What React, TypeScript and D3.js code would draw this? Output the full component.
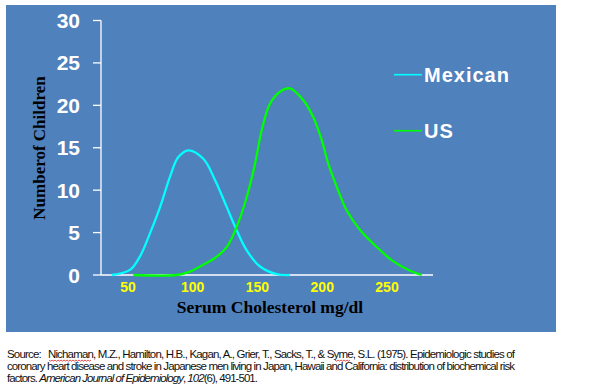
import * as d3 from "d3";

// values (cholesterol mg/dl, number of children)
const mexicanX = [37.5, 51.6, 59.3, 67, 74.8, 82.5, 88.9, 96.6, 108.2, 117.2, 126.3, 132.7, 141.7, 152, 164.9, 175.1];
const mexicanY = [0, 0.6, 2.2, 4.9, 8.0, 11.6, 13.9, 14.7, 13.7, 11.2, 8.0, 5.7, 2.9, 1.0, 0.1, 0];
const usX = [54.1, 87.6, 97.9, 108.2, 117.2, 126.3, 134, 141.7, 148.1, 153.3, 159.7, 167.4, 175, 185.4, 193.1, 199.6, 204.7, 211.2, 218.9, 229.2, 242.1, 254.9, 267.8, 276.8];
const usY = [0, 0, 0.4, 1.2, 2.0, 3.3, 5.7, 9.2, 13.1, 17.1, 20.2, 21.6, 22.0, 20.6, 18.6, 15.9, 13.1, 10.4, 7.6, 5.3, 3.3, 1.6, 0.5, 0];
const xTicks = [50, 100, 150, 200, 250];
const yTicks = [0, 5, 10, 15, 20, 25, 30];
const seriesNames = ["Mexican", "US"];
const seriesColors = ["#00FFFF", "#00FF00"];

const W = 590;
const H = 389;

// spell-check squiggle under a word
const squiggle = (x0: number, x1: number, yy: number) => {
  let d = `M${x0},${yy}`;
  for (let px = x0 + 1.5, k = 0; px <= x1; px += 1.5, k++) {
    d += ` L${px},${yy + (k % 2 === 0 ? 1.2 : 0)}`;
  }
  return d;
};

const App = () => {
  const x = d3.scaleLinear().domain([29.2, 285.5]).range([101, 433]);
  const y = d3.scaleLinear().domain([0, 30]).range([275, 20.5]);

  const line = d3
    .line<[number, number]>()
    .x((d) => x(d[0]))
    .y((d) => Math.min(y(0), y(d[1])))
    .curve(d3.curveCatmullRom.alpha(0.5));

  const series = [
    mexicanX.map((v, i) => [v, mexicanY[i]] as [number, number]),
    usX.map((v, i) => [v, usY[i]] as [number, number]),
  ];

  const sans = "Arial, 'Liberation Sans', sans-serif";
  const serif = "'Times New Roman', 'Liberation Serif', serif";

  return (
    <svg
      width={W}
      height={H}
      style={{ position: "absolute", left: 0, top: 0, background: "#fff" }}
    >
      <rect x={6} y={5} width={550} height={327} fill="#4F81BD" />

      {/* y axis */}
      <line x1={x.range()[0]} x2={x.range()[0]} y1={y(0)} y2={y(30)} stroke="#fff" strokeWidth={1.3} />
      {yTicks.map((t) => (
        <g key={t}>
          <line x1={93} x2={101} y1={y(t)} y2={y(t)} stroke="#fff" strokeWidth={1.3} />
          <text
            x={80}
            y={y(t)}
            dy="0.36em"
            textAnchor="end"
            fill="#fff"
            fontFamily={sans}
            fontWeight="bold"
            fontSize={21}
          >
            {t}
          </text>
        </g>
      ))}

      {/* x axis */}
      <line x1={x.range()[0]} x2={x.range()[1]} y1={y(0)} y2={y(0)} stroke="#fff" strokeWidth={1.3} />
      {xTicks.map((t) => (
        <text
          key={t}
          x={x(t)}
          y={292}
          textAnchor="middle"
          fill="#FFFF00"
          fontFamily={sans}
          fontWeight="bold"
          fontSize={14}
        >
          {t}
        </text>
      ))}

      {series.map((s, i) => (
        <path key={i} d={line(s) ?? ""} fill="none" stroke={seriesColors[i]} strokeWidth={2.3} />
      ))}

      <text
        x={270}
        y={313}
        textAnchor="middle"
        fill="#000"
        fontFamily={serif}
        fontWeight="bold"
        fontSize={17.5}
      >
        Serum Cholesterol mg/dl
      </text>
      <text
        transform="translate(45,148) rotate(-90)"
        textAnchor="middle"
        fill="#000"
        fontFamily={serif}
        fontWeight="bold"
        fontSize={17}
      >
        Numberof Children
      </text>

      {/* legend */}
      {seriesNames.map((n, i) => (
        <g key={n} transform={`translate(394,${74.7 + i * 56})`}>
          <line x1={0} x2={28} y1={0} y2={0} stroke={seriesColors[i]} strokeWidth={1.6} />
          <text
            x={30}
            y={0}
            dy="0.36em"
            fill="#fff"
            fontFamily={sans}
            fontWeight="bold"
            fontSize={20}
            letterSpacing={1}
          >
            {n}
          </text>
        </g>
      ))}

      {/* source */}
      <g fontFamily={sans} fontSize={11.5} fill="#111">
        <text x={7} y={358} textLength={508} lengthAdjust="spacing">
          Source:{"\u00a0\u00a0\u00a0"}Nichaman, M.Z., Hamilton, H.B., Kagan, A., Grier, T., Sacks, T., &amp; Syme, S.L. (1975). Epidemiologic studies of
        </text>
        <text x={7} y={370} textLength={508} lengthAdjust="spacing">
          coronary heart disease and stroke in Japanese men living in Japan, Hawaii and California: distribution of biochemical risk
        </text>
        <text x={7} y={382} textLength={251} lengthAdjust="spacing">
          factors. <tspan fontStyle="italic">American Journal of Epidemiology</tspan>, <tspan fontStyle="italic">102</tspan>(6), 491-501.
        </text>
      </g>
      <path d={squiggle(49, 92, 360)} fill="none" stroke="#e02020" strokeWidth={0.8} />
      <path d={squiggle(335, 351, 360)} fill="none" stroke="#e02020" strokeWidth={0.8} />
    </svg>
  );
};

export default App;
